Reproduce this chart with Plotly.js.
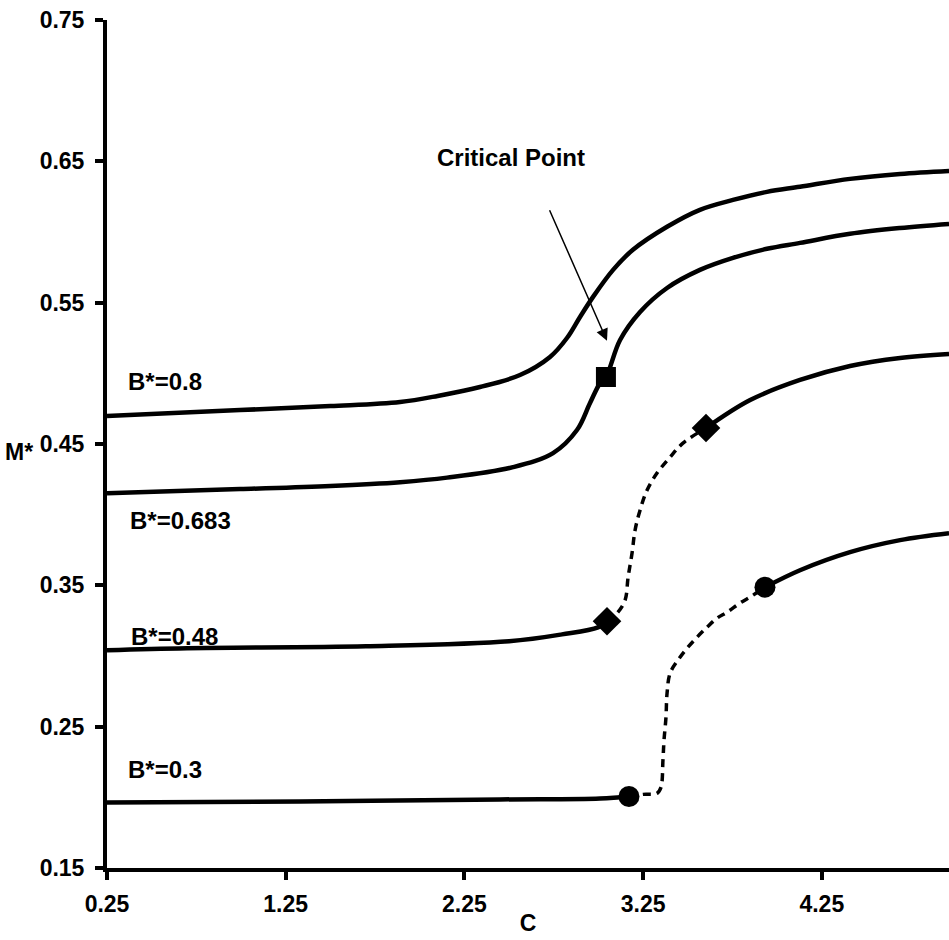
<!DOCTYPE html>
<html>
<head>
<meta charset="utf-8">
<script src="https://cdn.plot.ly/plotly-3.0.1.min.js"></script>
<style>html,body{margin:0;padding:0;background:#fff;}#chart{width:949px;height:940px;}</style>
</head>
<body>
<div id="chart"></div>
<script>
// ---- data (C, M*) ----
const b08_x = [0.25, 0.994, 1.500, 1.890, 2.100, 2.337, 2.561, 2.729, 2.824, 2.897, 2.970, 3.082, 3.193, 3.384, 3.568, 3.753, 3.943, 4.128, 4.408, 4.688, 4.962];
const b08_y = [0.4698, 0.4740, 0.4768, 0.4797, 0.4840, 0.4903, 0.4988, 0.5116, 0.5250, 0.5399, 0.5541, 0.5732, 0.5874, 0.6037, 0.6157, 0.6227, 0.6284, 0.6320, 0.6376, 0.6411, 0.6432];

const b0683_x = [0.25, 0.994, 1.500, 1.890, 2.153, 2.522, 2.746, 2.880, 2.953, 3.009, 3.042, 3.121, 3.233, 3.384, 3.568, 3.753, 3.943, 4.128, 4.408, 4.688, 4.962];
const b0683_y = [0.4152, 0.4181, 0.4203, 0.4230, 0.4262, 0.4336, 0.4436, 0.4599, 0.4790, 0.4931, 0.4974, 0.5236, 0.5434, 0.5604, 0.5732, 0.5817, 0.5881, 0.5923, 0.5987, 0.6028, 0.6057];

const b048_low_x = [0.25, 0.698, 1.699, 2.500, 2.796, 2.998, 3.048];
const b048_low_y = [0.3041, 0.3055, 0.3069, 0.3104, 0.3153, 0.3203, 0.3246];
const b048_mid_x = [3.048, 3.104, 3.149, 3.166, 3.188, 3.205, 3.233, 3.272, 3.328, 3.401, 3.473, 3.602];
const b048_mid_y = [0.3246, 0.3302, 0.3394, 0.3557, 0.3727, 0.3890, 0.4032, 0.4173, 0.4294, 0.4407, 0.4506, 0.4613];
const b048_high_x = [3.602, 3.849, 4.128, 4.408, 4.688, 4.962];
const b048_high_y = [0.4613, 0.4811, 0.4953, 0.5052, 0.5109, 0.5137];

const b03_low_x = [0.25, 1.330, 2.449, 3.009, 3.171];
const b03_low_y = [0.1964, 0.1971, 0.1985, 0.1992, 0.2006];
const b03_mid_x = [3.171, 3.249, 3.328, 3.350, 3.361, 3.367, 3.378, 3.384, 3.401, 3.445, 3.496, 3.552, 3.608, 3.664, 3.720, 3.792, 3.865, 3.932];
const b03_mid_y = [0.2006, 0.2021, 0.2028, 0.2070, 0.2261, 0.2403, 0.2566, 0.2736, 0.2878, 0.2971, 0.3055, 0.3133, 0.3204, 0.3268, 0.3310, 0.3374, 0.3430, 0.3487];
const b03_high_x = [3.932, 4.128, 4.408, 4.688, 4.962];
const b03_high_y = [0.3487, 0.3607, 0.3735, 0.3820, 0.3869];

// special points
const critical_x = [3.042];
const critical_y = [0.4974];
const diamond_x = [3.048, 3.602];
const diamond_y = [0.3246, 0.4613];
const circle_x = [3.171, 3.932];
const circle_y = [0.2006, 0.3487];

// curve labels
const label_text = ["B*=0.8", "B*=0.683", "B*=0.48", "B*=0.3"];
const label_x = [0.356, 0.368, 0.373, 0.356];
const label_y = [0.494, 0.396, 0.314, 0.2198];

const yticks = [0.15, 0.25, 0.35, 0.45, 0.55, 0.65, 0.75];
const ytick_text = ["0.15", "0.25", "0.35", "0.45", "0.55", "0.65", "0.75"];
const xticks = [0.25, 1.25, 2.25, 3.25, 4.25];
const xtick_text = ["0.25", "1.25", "2.25", "3.25", "4.25"];

// ---- styling ----
const FONT = "Liberation Sans, Arial, Helvetica, sans-serif";
const solid = {color: "#000", width: 4.5, shape: "spline", smoothing: 1};
const dashed = {color: "#000", width: 3.5, dash: "8px,6px", shape: "spline", smoothing: 1};
const labelFont = {family: FONT, size: 24, color: "#000", weight: "bold"};
const axisFont = {family: FONT, size: 23, color: "#000", weight: "bold"};

const traces = [
  {x: b08_x, y: b08_y, mode: "lines", line: solid, name: "B*=0.8"},
  {x: b0683_x, y: b0683_y, mode: "lines", line: solid, name: "B*=0.683"},
  {x: b048_low_x, y: b048_low_y, mode: "lines", line: solid, name: "B*=0.48"},
  {x: b048_mid_x, y: b048_mid_y, mode: "lines", line: dashed, name: "B*=0.48 unstable"},
  {x: b048_high_x, y: b048_high_y, mode: "lines", line: solid, name: "B*=0.48 high"},
  {x: b03_low_x, y: b03_low_y, mode: "lines", line: solid, name: "B*=0.3"},
  {x: b03_mid_x, y: b03_mid_y, mode: "lines", line: dashed, name: "B*=0.3 unstable"},
  {x: b03_high_x, y: b03_high_y, mode: "lines", line: solid, name: "B*=0.3 high"},
  {x: critical_x, y: critical_y, mode: "markers", marker: {symbol: "square", size: 20, color: "#000"}, name: "Critical Point"},
  {x: diamond_x, y: diamond_y, mode: "markers", marker: {symbol: "diamond", size: 22, color: "#000"}, name: "B*=0.48 limits"},
  {x: circle_x, y: circle_y, mode: "markers", marker: {symbol: "circle", size: 21, color: "#000"}, name: "B*=0.3 limits"}
];

const annotations = label_text.map((t, i) => ({
  x: label_x[i], y: label_y[i], xref: "x", yref: "y", text: t, showarrow: false,
  xanchor: "left", yanchor: "middle", font: labelFont
}));
annotations.push({
  x: 2.511, y: 0.653, xref: "x", yref: "y", text: "Critical Point", showarrow: false,
  xanchor: "center", yanchor: "middle", font: labelFont
});
annotations.push({
  x: 3.048, y: 0.523, xref: "x", yref: "y", ax: 2.723, ay: 0.6165, axref: "x", ayref: "y",
  text: "", showarrow: true, arrowhead: 2, arrowsize: 1.6, arrowwidth: 1.5, arrowcolor: "#000"
});
annotations.push({
  x: -0.104, y: (867.5 - 452) / 847, xref: "paper", yref: "paper",
  text: "M*", showarrow: false, xanchor: "center", yanchor: "middle",
  font: axisFont
});

const layout = {
  width: 949, height: 940,
  margin: {l: 107, r: 0, t: 20, b: 72, pad: 0},
  paper_bgcolor: "#fff", plot_bgcolor: "#fff",
  showlegend: false,
  xaxis: {
    range: [0.25, 0.25 + 842 / 178.7],
    tickvals: xticks, ticktext: xtick_text,
    showgrid: false, zeroline: false,
    showline: true, linecolor: "#000", linewidth: 4,
    ticks: "outside", ticklen: 8, tickwidth: 4, tickcolor: "#000",
    tickfont: axisFont, ticklabelstandoff: 4,
    title: {text: "C", font: axisFont, standoff: 0}
  },
  yaxis: {
    range: [0.15, 0.75],
    tickvals: yticks, ticktext: ytick_text,
    showgrid: false, zeroline: false,
    showline: true, linecolor: "#000", linewidth: 4,
    ticks: "outside", ticklen: 8, tickwidth: 4, tickcolor: "#000",
    tickfont: axisFont, ticklabelstandoff: 6
  },
  annotations: annotations
};

Plotly.newPlot("chart", traces, layout, {displayModeBar: false, staticPlot: true});
</script>
</body>
</html>
